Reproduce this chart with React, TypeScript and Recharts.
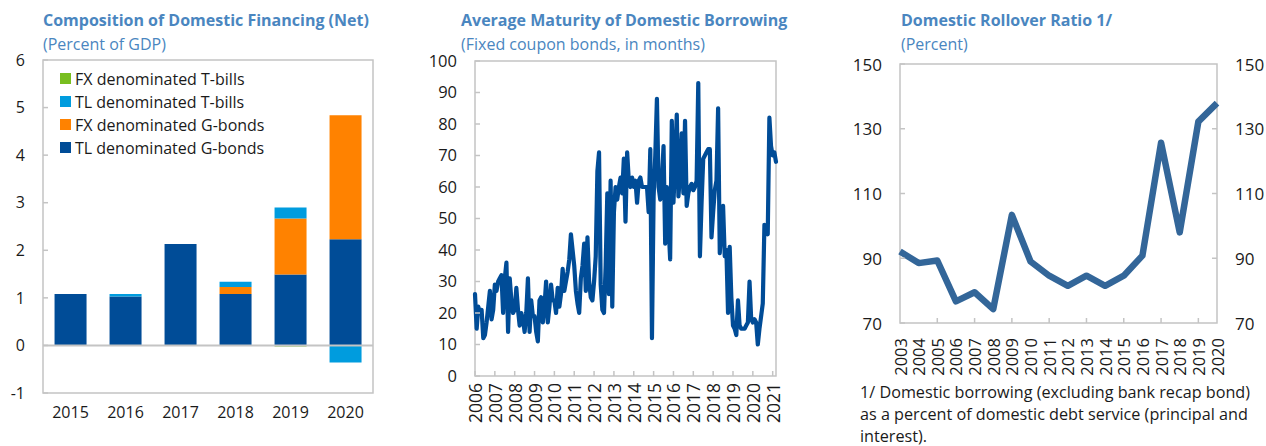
import React from 'react';
import { BarChart, Bar, LineChart, Line, XAxis, YAxis, ReferenceLine, ReferenceArea } from 'recharts';

const FONT = "'Open Sans', 'Noto Sans', sans-serif";
const TITLE_COLOR = '#4a86c0';
const BORDER = '#c4c4c4';
const TEXT = '#1a1a1a';

// ---------- Panel 1: Composition of Domestic Financing (Net) ----------
const finYears = ['2015', '2016', '2017', '2018', '2019', '2020'];
const tlGBonds = [1.08, 1.03, 2.13, 1.08, 1.49, 2.23];
const fxGBonds = [0, 0, 0, 0.15, 1.18, 2.61];
const tlTBills = [0, 0.05, 0, 0.11, 0.23, -0.36];
const fxTBills = [0, 0, 0, 0, -0.02, 0];
const finTicks = [-1, 0, 1, 2, 3, 4, 5, 6];

const finSeries = [
  { key: 'fxT', name: 'FX denominated T-bills', color: '#78be20' },
  { key: 'tlT', name: 'TL denominated T-bills', color: '#009cde' },
  { key: 'fxG', name: 'FX denominated G-bonds', color: '#ff8200' },
  { key: 'tlG', name: 'TL denominated G-bonds', color: '#004c97' },
];

// ---------- Panel 2: Average Maturity of Domestic Borrowing (monthly) ----------
const maturityYears = ['2006', '2007', '2008', '2009', '2010', '2011', '2012', '2013', '2014', '2015', '2016', '2017', '2018', '2019', '2020', '2021'];
const maturityValues = [
  // 2006
  26, 15, 22, 20, 21, 12, 13, 17, 22, 27, 18, 21,
  // 2007
  29, 27, 30, 31, 32, 20, 31, 36, 14, 31, 24, 20,
  // 2008
  21, 28, 21, 16, 20, 18, 14, 20, 31, 14, 24, 19,
  // 2009
  19, 14, 11, 24, 25, 17, 22, 30, 17, 22, 29, 24,
  // 2010
  24, 20, 28, 22, 26, 34, 27, 30, 33, 37, 45, 40,
  // 2011
  35, 27, 23, 20, 31, 35, 42, 27, 44, 30, 25, 24,
  // 2012
  30, 38, 65, 71, 29, 21, 20, 35, 58, 26, 62, 22,
  // 2013
  52, 60, 56, 60, 63, 58, 69, 49, 71, 62, 60, 63,
  // 2014
  60, 62, 55, 62, 63, 60, 60, 60, 60, 52, 72, 12,
  // 2015
  57, 70, 88, 60, 56, 62, 73, 42, 60, 48, 37, 81,
  // 2016
  55, 68, 83, 57, 64, 77, 58, 81, 54, 58, 60, 61,
  // 2017
  59, 60, 62, 93, 38, 55, 69, 70, 71, 72, 72, 44,
  // 2018
  52, 59, 62, 85, 39, 48, 54, 38, 40, 20, 41, 25,
  // 2019
  16, 15, 13, 24, 16, 15, 15, 15, 16, 17, 30, 18,
  // 2020
  17, 18, 17, 10, 15, 19, 23, 48, 46, 45, 82, 73,
  // 2021
  70, 71, 68,
];
const maturityTicksY = [0, 10, 20, 30, 40, 50, 60, 70, 80, 90, 100];

// ---------- Panel 3: Domestic Rollover Ratio ----------
const rolloverYears = ['2003', '2004', '2005', '2006', '2007', '2008', '2009', '2010', '2011', '2012', '2013', '2014', '2015', '2016', '2017', '2018', '2019', '2020'];
const rolloverValues = [92.1, 88.5, 89.3, 76.7, 79.5, 74.3, 103.4, 89.0, 84.6, 81.5, 84.6, 81.5, 84.6, 90.8, 125.7, 98.0, 132.2, 137.9];
const rolloverTicks = [70, 90, 110, 130, 150];

// ---------- build data tables ----------
const finData = finYears.map((year, i) => ({
  year,
  tlG: tlGBonds[i],
  fxG: fxGBonds[i],
  tlT: tlTBills[i],
  fxT: fxTBills[i],
}));

const maturityData = maturityValues.map((v, i) => ({
  d: `${maturityYears[Math.floor(i / 12)]}-${String((i % 12) + 1).padStart(2, '0')}`,
  v,
}));
const maturityXTicks = maturityYears.map((y) => `${y}-01`);

const rolloverData = rolloverYears.map((year, i) => ({ year, v: rolloverValues[i] }));

// panel 3 layout
const ROLL_W = 426;
const ROLL_LEFT_AXIS = 60;
const ROLL_RIGHT_SPACE = 49;
const ROLL_PLOT_W = ROLL_W - ROLL_LEFT_AXIS - ROLL_RIGHT_SPACE;

const titleStyle = (left: number, top: number): React.CSSProperties => ({
  position: 'absolute',
  left,
  top,
  lineHeight: '22px',
  fontSize: 16,
  fontWeight: 700,
  color: TITLE_COLOR,
  whiteSpace: 'nowrap',
});
const subStyle = (left: number, top: number): React.CSSProperties => ({
  position: 'absolute',
  left,
  top,
  lineHeight: '22px',
  fontSize: 16,
  color: TITLE_COLOR,
  whiteSpace: 'nowrap',
});

const MatTick = (props: any) => {
  const { x, y, payload } = props;
  return (
    <text
      x={x}
      y={y}
      transform={`rotate(-90, ${x}, ${y})`}
      textAnchor="end"
      dominantBaseline="central"
      fontSize={17.5}
      fill={TEXT}
    >
      {String(payload.value).slice(0, 4)}
    </text>
  );
};

const RollTick = (props: any) => {
  const { x, y, payload } = props;
  const yr = Number(payload.value);
  return (
    <g>
      {yr % 2 === 1 && yr > 2003 && yr < 2020 ? (
        <line x1={x} x2={x} y1={y - 15} y2={y - 20} stroke={BORDER} strokeWidth={1.5} />
      ) : null}
      <text
        x={x}
        y={y}
        transform={`rotate(-90, ${x}, ${y})`}
        textAnchor="end"
        dominantBaseline="central"
        fontSize={16.5}
        fill={TEXT}
      >
        {payload.value}
      </text>
    </g>
  );
};

// left axis tick of panel 3 that also mirrors the label on the right side of the plot
const RollYTick = (props: any) => {
  const { x, y, payload } = props;
  const plotLeft = x + 18;
  const plotRight = plotLeft + ROLL_PLOT_W;
  const inner = payload.value !== 70 && payload.value !== 150;
  return (
    <g>
      {inner ? (
        <line x1={plotRight} x2={plotRight - 5} y1={y} y2={y} stroke={BORDER} strokeWidth={1.5} />
      ) : null}
      <text x={x} y={y} textAnchor="end" dominantBaseline="central" fontSize={17} fill={TEXT}>
        {payload.value}
      </text>
      <text x={plotRight + 18} y={y} textAnchor="start" dominantBaseline="central" fontSize={17} fill={TEXT}>
        {payload.value}
      </text>
    </g>
  );
};

export default function App() {
  return (
    <div
      style={{
        position: 'absolute',
        left: 0,
        top: 0,
        width: 1266,
        height: 446,
        background: '#fff',
        fontFamily: FONT,
        overflow: 'hidden',
      }}
    >
      {/* Panel 1 */}
      <div style={{ position: 'absolute', left: 0, top: 0 }}>
        <BarChart
          width={420}
          height={446}
          data={finData}
          stackOffset="sign"
          barCategoryGap="21%"
          margin={{ top: 60, right: 7, bottom: 23, left: 0 }}
        >
          <ReferenceArea yAxisId="l" y1={-1} y2={6} fill="none" stroke={BORDER} strokeWidth={1.5} />
          <XAxis dataKey="year" axisLine={false} tickLine={false} tickSize={0} tickMargin={14} height={30} tick={{ fill: TEXT, fontSize: 16 }} interval={0} />
          <YAxis yAxisId="l" domain={[-1, 6]} ticks={finTicks} width={43} axisLine={false} tickSize={-5} tickMargin={23} tickLine={{ stroke: BORDER, strokeWidth: 1.5 }} tick={{ fill: TEXT, fontSize: 16 }} />
          <YAxis yAxisId="r" orientation="right" domain={[-1, 6]} ticks={finTicks} width={40} axisLine={false} tickSize={-5} tickMargin={24} tickLine={{ stroke: BORDER, strokeWidth: 1.5 }} tick={{ fill: TEXT, fontSize: 16 }} />
          <ReferenceLine yAxisId="l" y={0} stroke={BORDER} strokeWidth={2} />
          <Bar yAxisId="l" dataKey="tlG" stackId="a" fill="#004c97" isAnimationActive={false} />
          <Bar yAxisId="l" dataKey="fxG" stackId="a" fill="#ff8200" isAnimationActive={false} />
          <Bar yAxisId="l" dataKey="tlT" stackId="a" fill="#009cde" isAnimationActive={false} />
          <Bar yAxisId="l" dataKey="fxT" stackId="a" fill="#78be20" isAnimationActive={false} />
        </BarChart>
      </div>
      <div style={titleStyle(43, 9)}>Composition of Domestic Financing (Net)</div>
      <div style={subStyle(43, 33)}>(Percent of GDP)</div>
      <div style={{ position: 'absolute', left: 60, top: 67 }}>
        {finSeries.map((s) => (
          <div key={s.key} style={{ display: 'flex', alignItems: 'center', height: 23, fontSize: 16, color: TEXT, whiteSpace: 'nowrap' }}>
            <span style={{ display: 'inline-block', width: 11, height: 11, background: s.color, marginRight: 4 }} />
            {s.name}
          </div>
        ))}
      </div>

      {/* Panel 2 */}
      <div style={{ position: 'absolute', left: 420, top: 0 }}>
        <LineChart
          width={420}
          height={446}
          data={maturityData}
          margin={{ top: 61, right: 14, bottom: 20, left: 0 }}
        >
          <ReferenceArea yAxisId="l" y1={0} y2={100} fill="none" stroke={BORDER} strokeWidth={1.5} />
          <XAxis dataKey="d" ticks={maturityXTicks} interval={0} axisLine={false} tickSize={-5} tickMargin={12} tickLine={{ stroke: BORDER, strokeWidth: 1.5 }} height={50} tick={<MatTick />} />
          <YAxis yAxisId="l" domain={[0, 100]} ticks={maturityTicksY} width={55} axisLine={false} tickSize={-5} tickMargin={23} tickLine={{ stroke: BORDER, strokeWidth: 1.5 }} tick={{ fill: TEXT, fontSize: 16.5 }} />
          <YAxis yAxisId="r" orientation="right" domain={[0, 100]} ticks={maturityTicksY} width={50} axisLine={false} tickSize={-5} tickMargin={24} tickLine={{ stroke: BORDER, strokeWidth: 1.5 }} tick={{ fill: TEXT, fontSize: 16.5 }} />
          <Line yAxisId="l" type="linear" dataKey="v" stroke="#004c97" strokeWidth={4.2} strokeLinejoin="round" strokeLinecap="round" dot={false} isAnimationActive={false} />
        </LineChart>
      </div>
      <div style={titleStyle(461, 9)}>Average Maturity of Domestic Borrowing</div>
      <div style={subStyle(461, 33)}>(Fixed coupon bonds, in months)</div>

      {/* Panel 3 */}
      <div style={{ position: 'absolute', left: 840, top: 0, width: ROLL_W }}>
        <LineChart
          width={ROLL_W}
          height={390}
          data={rolloverData}
          margin={{ top: 64, right: ROLL_RIGHT_SPACE, bottom: 7, left: 0 }}
        >
          <ReferenceArea yAxisId="l" y1={70} y2={150} fill="none" stroke={BORDER} strokeWidth={1.5} />
          <XAxis dataKey="year" interval={0} axisLine={false} tickLine={false} tickSize={0} tickMargin={15} height={60} tick={<RollTick />} />
          <YAxis yAxisId="l" domain={[70, 150]} ticks={rolloverTicks} width={ROLL_LEFT_AXIS} axisLine={false} tickSize={-5} tickMargin={23} tickLine={{ stroke: BORDER, strokeWidth: 1.5 }} tick={<RollYTick />} />
          <Line yAxisId="l" type="linear" dataKey="v" stroke="#336699" strokeWidth={6.5} strokeLinejoin="round" dot={false} isAnimationActive={false} />
        </LineChart>
      </div>
      <div style={titleStyle(901, 9)}>Domestic Rollover Ratio 1/</div>
      <div style={subStyle(901, 33)}>(Percent)</div>
      <div style={{ position: 'absolute', left: 860, top: 381, fontSize: 16.2, lineHeight: '22px', color: TEXT, whiteSpace: 'nowrap' }}>
        <div>1/ Domestic borrowing (excluding bank recap bond)</div>
        <div>as a percent of domestic debt service (principal and</div>
        <div>interest).</div>
      </div>
    </div>
  );
}
